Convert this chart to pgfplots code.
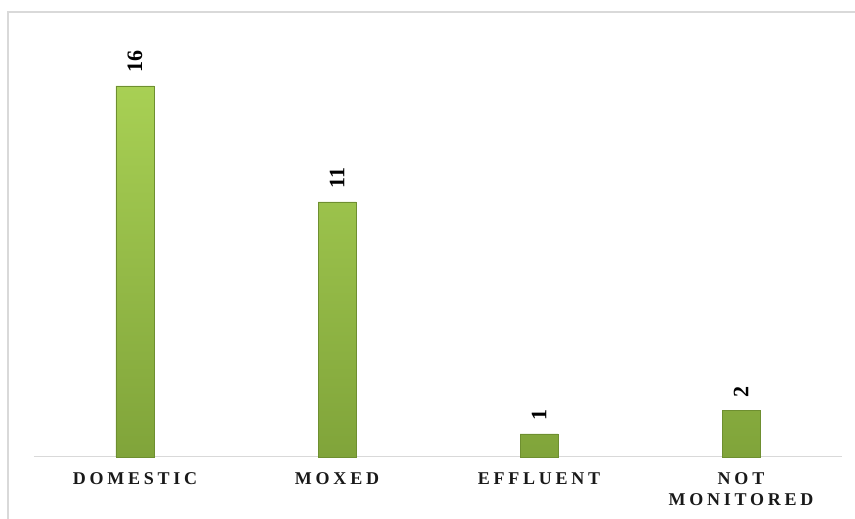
\documentclass[border=0pt]{standalone}
\usepackage{pgfplots}
\pgfplotsset{compat=1.18}
\usepackage{fontspec}
\setmainfont{Liberation Serif}
\newfontfamily\spacedfont[LetterSpace=21]{Liberation Serif}
\definecolor{barlight}{HTML}{A8D054}
\definecolor{bardark}{HTML}{80A43A}
\definecolor{baredge}{HTML}{6E8F30}
\definecolor{framegray}{HTML}{D9D9D9}
\begin{document}
\begin{tikzpicture}[x=1pt,y=1pt]
\path[use as bounding box] (0,0) rectangle (855,519);
\draw[framegray, line width=2pt] (8,-5) -- (8,507) -- (860,507);
\begin{axis}[
  at={(34pt,62pt)}, anchor=south west,
  scale only axis,
  width=808pt, height=440.8pt,
  xmin=-0.5, xmax=3.5, ymin=0, ymax=19,
  axis x line=bottom, axis y line=none,
  x axis line style={-, draw=framegray, line width=1pt},
  xtick={0,1,2,3},
  xticklabels={DOMESTIC, MOXED, EFFLUENT, {NOT\\MONITORED}},
  major tick length=0pt,
  xticklabel style={font=\spacedfont\bfseries\fontsize{18}{21}\selectfont, align=center, anchor=north, yshift=-12pt, text=black!90},
  ytick=\empty,
  ybar, bar width=38pt,
  /pgf/number format/assume math mode=true,
  nodes near coords,
  every node near coord/.append style={font=\bfseries\fontsize{22}{22}\selectfont, rotate=90, anchor=west, inner sep=13pt, text=black},
  clip=false,
]
\addplot[draw=baredge, line width=0.5pt, top color=barlight, bottom color=bardark] coordinates {(0,16) (1,11) (2,1) (3,2)};
\end{axis}
\end{tikzpicture}
\end{document}
